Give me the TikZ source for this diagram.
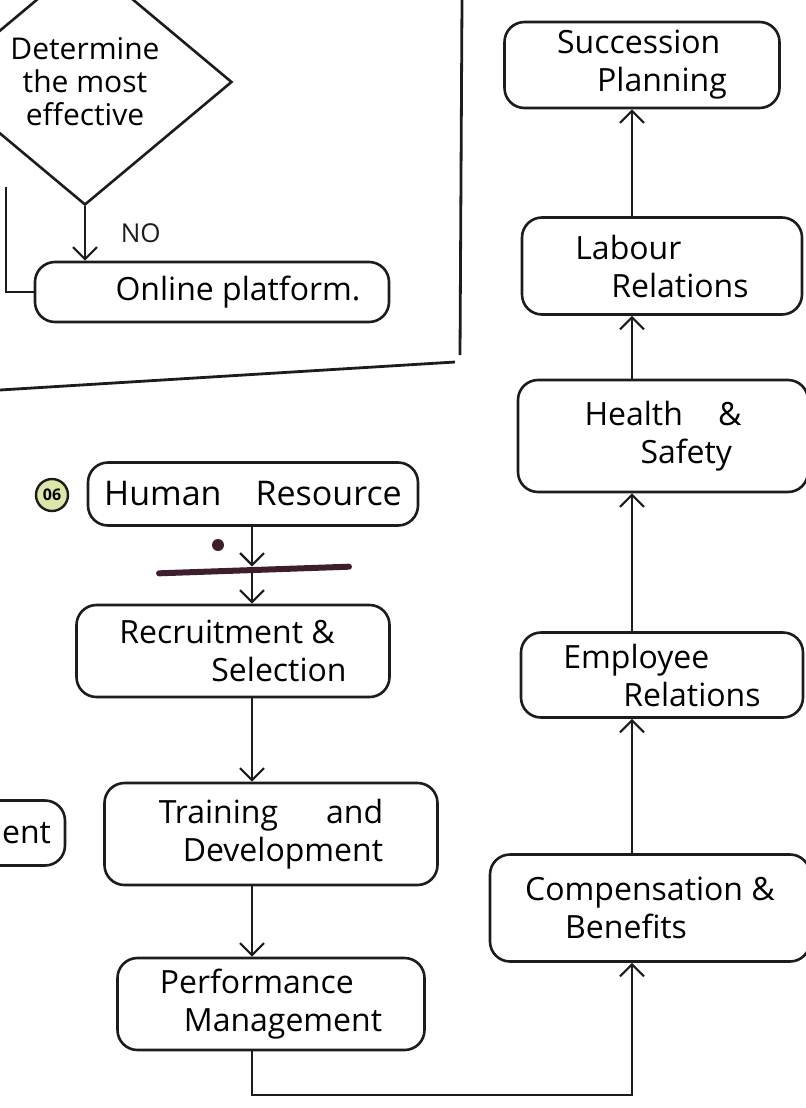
\documentclass[tikz,border=0pt]{standalone}
\usepackage{fontspec}
\setmainfont{Open Sans}
\usepackage{tikz}
\usetikzlibrary{arrows.meta, positioning, shapes.geometric}
\definecolor{ink}{HTML}{1C1C1C}
\definecolor{plum}{HTML}{3E1E2C}
\definecolor{lime}{HTML}{DCE6A8}
\tikzset{
	pill/.style={draw=ink, line width=1.3pt, rounded corners=10pt,
		align=left, inner xsep=4pt, inner ysep=2pt, font=\fontsize{16}{19}\selectfont},
	decide/.style={draw=ink, line width=1.3pt, diamond, shape aspect=1.2, align=center,
		inner sep=0pt, font=\fontsize{15}{16.5}\selectfont},
	badge/.style={draw=ink, line width=1.2pt, circle, fill=lime,
		minimum size=16pt, inner sep=0pt, font=\fontsize{8}{8}\selectfont\bfseries},
	arr/.style={-{Straight Barb[length=6pt, width=12pt]}, line width=1.1pt, ink},
	wire/.style={line width=1.1pt, ink},
}

\begin{document}
\begin{tikzpicture}[x=0.5pt, y=-0.5pt, font=\fontsize{16}{19}\selectfont]
	\useasboundingbox (0,0) rectangle (806,1108);

	\draw[wire, line width=1.4pt] (462,0) -- (460,355);
	\draw[wire, line width=1.4pt] (0,390) -- (455,362);

	\node[decide, minimum width=147pt, minimum height=123pt] (dec) at (85,82)
	{Determine\\the most\\effective};
	\node[pill, minimum width=177pt, minimum height=30pt, align=center] (online) at (212,292)
	{\hspace*{26pt}Online platform.};
	\coordinate (feed) at (6,187);

	\node[pill, minimum width=100pt, minimum height=32.5pt, text width=86pt, align=right]
	(ment) at (-35,833) {ent};

	\node[pill, minimum width=165pt, minimum height=31.5pt, align=center,
		font=\fontsize{17}{20}\selectfont] (hr) at (253,494) {Human\hspace{1em}Resource};
	\node[badge] (num) at (52,495) {06};
	\node[circle, fill=plum, inner sep=0pt, minimum size=6pt] (blot) at (218,545) {};
	\node[fill=plum, minimum width=98pt, minimum height=3pt, inner sep=0pt,
		rounded corners=1.5pt, rotate=2] (bar) at (254,570) {};
	\node[pill, minimum width=156.5pt, minimum height=46pt] (recr) at (233,651)
	{Recruitment \&\\\hspace*{46pt}Selection};
	\node[pill, minimum width=166.5pt, minimum height=51pt] (train) at (271,834)
	{Training\hspace{1.5em}and\\\hspace*{12pt}Development};
	\node[pill, minimum width=153.5pt, minimum height=46pt] (perf) at (271,1004)
	{Performance\\\hspace*{12pt}Management};

	\node[pill, minimum width=137.5pt, minimum height=43pt] (succ) at (642,65)
	{Succession\\\hspace*{20pt}Planning};
	\node[pill, minimum width=140pt, minimum height=48.5pt] (labour) at (662,266)
	{Labour\\\hspace*{18pt}Relations};
	\node[pill, minimum width=145pt, minimum height=56pt] (health) at (663,436)
	{Health\hspace{1.1em}\&\\\hspace*{28pt}Safety};
	\node[pill, minimum width=141pt, minimum height=42.5pt] (emp) at (662,675)
	{Employee\\\hspace*{30pt}Relations};
	\node[pill, minimum width=160pt, minimum height=53.5pt] (comp) at (650,908)
	{Compensation \&\\\hspace*{20pt}Benefits};

	\coordinate (lspine) at (252,0);
	\coordinate (rspine) at (632,0);

	\draw[arr] (dec.south) -- node[right=14pt, font=\fontsize{13}{13}\selectfont] {NO}
		(dec.south |- online.north);
	\draw[wire] (feed) |- (online.west);

	\draw[arr] (hr.south -| lspine) -- (bar.north -| lspine);
	\draw[arr] (bar.south -| lspine) -- (recr.north -| lspine);
	\draw[arr] (recr.south -| lspine) -- (train.north -| lspine);
	\draw[arr] (train.south -| lspine) -- (perf.north -| lspine);
	\draw[arr] (perf.south -| lspine) -- ++(0,44) -| (comp.south -| rspine);

	\draw[arr] (comp.north -| rspine) -- (emp.south -| rspine);
	\draw[arr] (emp.north -| rspine) -- (health.south -| rspine);
	\draw[arr] (health.north -| rspine) -- (labour.south -| rspine);
	\draw[arr] (labour.north -| rspine) -- (succ.south -| rspine);
\end{tikzpicture}
\end{document}
